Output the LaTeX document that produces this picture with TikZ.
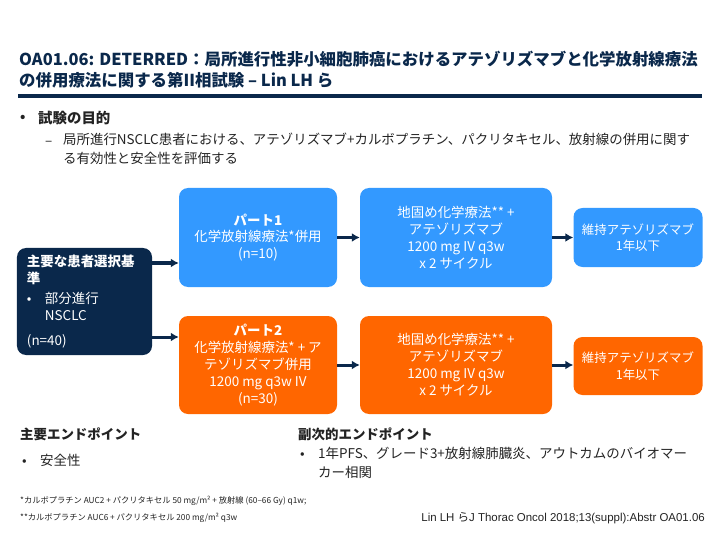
\documentclass[tikz,border=0pt]{standalone}
\usepackage{fontspec}
\setmainfont{Noto Sans CJK JP}
\newfontfamily\latfont{Liberation Sans}
\usetikzlibrary{arrows.meta, positioning}
\definecolor{inknavy}{RGB}{10, 40, 75}
\definecolor{boxblue}{RGB}{51, 153, 255}
\definecolor{boxorange}{RGB}{255, 102, 0}
\definecolor{inktext}{RGB}{35, 35, 35}
\tikzset{
    blk/.style   ={rounded corners=9bp, inner sep=0pt, align=center,
                   text=white, font=\fontsize{13.5}{17}\selectfont},
    bluebox/.style ={blk, fill=boxblue},
    orangebox/.style={blk, fill=boxorange},
    navybox/.style ={blk, fill=inknavy},
    smallbox/.style={font=\fontsize{12.5}{16.5}\selectfont},
    ar/.style    ={-{Latex[length=8bp, width=9bp]}, line width=3bp, draw=inknavy},
    txt/.style   ={anchor=west, inner sep=0pt, text=inktext, align=left,
                   font=\fontsize{13.5}{19}\selectfont},
    hdr/.style   ={txt, font=\fontsize{13.5}{19}\selectfont\bfseries},
    note/.style  ={txt, font=\fontsize{8.3}{17}\selectfont}
}
\newcommand{\blt}{\makebox[18bp][l]{•}}

\begin{document}
\begin{tikzpicture}[x=1bp, y=-1bp]
  \useasboundingbox (0,0) rectangle (720,540);

  % title
  \node[txt, text=inknavy, font=\fontsize{16.5}{21}\selectfont\bfseries] (title) at (19, 70)
       {OA01.06: DETERRED：局所進行性非小細胞肺癌におけるアテゾリズマブと化学放射線療法\\
        の併用療法に関する第II相試験 – Lin LH ら};
  \draw[inknavy, line width=3.5bp] (18, 96) -- (702, 96);

  % study objective
  \node[hdr] (objb) at (20, 118) {•};
  \node[hdr, font=\fontsize{14.5}{19}\selectfont\bfseries] (obj) at (38, 118) {試験の目的};
  \node[txt] (objd) at (45, 143) {–};
  \node[txt, anchor=north west] (objt) at (63, 133)
       {局所進行NSCLC患者における、アテゾリズマブ+カルボプラチン、パクリタキセル、放射線の併用に関す\\
        る有効性と安全性を評価する};

  % treatment boxes
  \node[navybox, minimum width=135bp, minimum height=107bp, text width=115bp, align=left]
       (sel) at (84.5, 301.5)
       {{\bfseries 主要な患者選択基\\準}\\[4bp]
        \blt 部分進行\\
        \hspace*{18bp}NSCLC\\[8bp]
        (n=40)};
  \node[bluebox, minimum width=158bp, minimum height=99bp] (p1) at (258, 237.5)
       {{\bfseries パート1}\\化学放射線療法*併用\\(n=10)};
  \node[orangebox, minimum width=158bp, minimum height=98bp] (p2) at (258, 365)
       {{\bfseries パート2}\\化学放射線療法* + ア\\テゾリズマブ併用\\1200 mg q3w IV\\(n=30)};
  \node[bluebox, minimum width=192bp, minimum height=99bp] (c1) at (456, 237.5)
       {地固め化学療法** +\\アテゾリズマブ\\1200 mg IV q3w\\x 2 サイクル};
  \node[orangebox, minimum width=192bp, minimum height=98bp] (c2) at (456, 365)
       {地固め化学療法** +\\アテゾリズマブ\\1200 mg IV q3w\\x 2 サイクル};
  \node[bluebox, smallbox, minimum width=129bp, minimum height=59bp] (m1) at (638, 237.5)
       {維持アテゾリズマブ\\1年以下};
  \node[orangebox, smallbox, minimum width=129bp, minimum height=58bp] (m2) at (638, 366)
       {維持アテゾリズマブ\\1年以下};

  % arrows
  \coordinate (s1) at (sel.east |- 0, 263);
  \coordinate (s2) at (sel.east |- 0, 337);
  \draw[ar] (s1) -- (s1 -| p1.west);
  \draw[ar] (s2) -- (s2 -| p2.west);
  \draw[ar] (p1) -- (c1);
  \draw[ar] (p2) -- (c2);
  \draw[ar] (c1) -- (m1);
  \draw[ar] (c2.east) -- (c2.east -| m2.west);

  % endpoints
  \node[hdr] (pri)  at (20, 434) {主要エンドポイント};
  \node[txt] (prib) at (22, 460) {\blt 安全性};
  \node[hdr] (sec)  at (298, 434) {副次的エンドポイント};
  \node[txt, anchor=north west] (secb) at (300, 447)
       {\blt 1年PFS、グレード3+放射線肺臓炎、アウトカムのバイオマー\\
        \hspace*{18bp}カー相関};

  % footnotes
  \node[note, anchor=north west] (fn) at (20, 496)
       {*カルボプラチン AUC2 + パクリタキセル 50 mg/m² + 放射線 (60–66 Gy) q1w;\\
        **カルボプラチン AUC6 + パクリタキセル 200 mg/m² q3w};
  \node[note, anchor=east, font=\fontsize{11.5}{17}\selectfont] (ref) at (705, 518)
       {{\latfont Lin LH }ら{\latfont J Thorac Oncol 2018;13(suppl):Abstr OA01.06}};
\end{tikzpicture}
\end{document}
